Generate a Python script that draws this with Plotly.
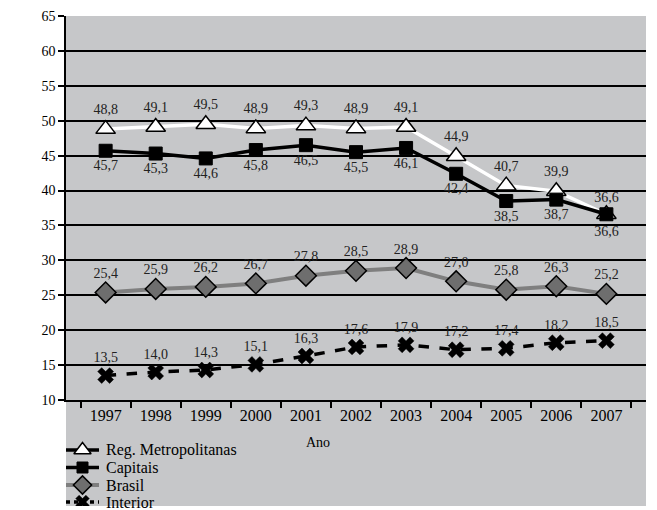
import plotly.graph_objects as go

anos = ["1997", "1998", "1999", "2000", "2001", "2002", "2003", "2004", "2005", "2006", "2007"]
reg_metropolitanas = [48.8, 49.1, 49.5, 48.9, 49.3, 48.9, 49.1, 44.9, 40.7, 39.9, 36.6]
capitais = [45.7, 45.3, 44.6, 45.8, 46.5, 45.5, 46.1, 42.4, 38.5, 38.7, 36.6]
brasil = [25.4, 25.9, 26.2, 26.7, 27.8, 28.5, 28.9, 27.0, 25.8, 26.3, 25.2]
interior = [13.5, 14.0, 14.3, 15.1, 16.3, 17.6, 17.9, 17.2, 17.4, 18.2, 18.5]

FONT = "Times New Roman, Liberation Serif, serif"
W, H = 657, 510
ML, MR, MT, MB = 66, 11, 16, 4
PLOT_BOTTOM_PX = 400          # pixel row of the x axis line
PAPER_H = H - MT - MB
MAIN_DOMAIN_Y0 = (H - MB - PLOT_BOTTOM_PX) / PAPER_H


def rotulo(valores):
    return [f"{v:.1f}".replace(".", ",") for v in valores]


series = [
    dict(name="Reg. Metropolitanas", y=reg_metropolitanas,
         line=dict(color="white", width=3.5),
         marker=dict(symbol="triangle-up", size=17, color="white",
                     line=dict(color="black", width=1.5)),
         pos=["top center"] * 10 + ["bottom center"]),
    dict(name="Capitais", y=capitais,
         line=dict(color="black", width=3.5),
         marker=dict(symbol="square", size=13, color="black",
                     line=dict(color="black", width=1)),
         pos=["bottom center"] * 10 + ["top center"]),
    dict(name="Brasil", y=brasil,
         line=dict(color="#7f7f7f", width=4),
         marker=dict(symbol="diamond", size=16, color="#6e6e6e",
                     line=dict(color="black", width=1.5)),
         pos="top center"),
    dict(name="Interior", y=interior,
         line=dict(color="black", width=3.5, dash="dash"),
         marker=dict(symbol="x", size=14, color="black",
                     line=dict(color="black", width=0.5)),
         pos="top center"),
]

fig = go.Figure()

for s in series:
    fig.add_trace(go.Scatter(
        x=anos, y=s["y"], name=s["name"],
        mode="lines+markers+text",
        line=s["line"], marker=s["marker"],
        text=rotulo(s["y"]), textposition=s["pos"],
        textfont=dict(family=FONT, size=14, color="#222"),
        showlegend=False, cliponaxis=False,
    ))

# legend drawn in its own strip below the chart (pixel-like coordinates)
legend_rows = [50, 67.5, 85, 102]      # offsets below the x axis line
legend_sym_x = [0, 16.5, 33]           # line start, marker, line end
legend_text_x = 38
for s, row in zip(series, legend_rows):
    leg_line = dict(s["line"])
    if leg_line.get("dash"):
        leg_line["dash"] = "4px,4px"
    if s["name"] == "Reg. Metropolitanas":
        leg_line = dict(color="black", width=3.5)
    mk = dict(s["marker"])
    mk["size"] = s["marker"]["size"] - 2
    fig.add_trace(go.Scatter(
        x=[legend_sym_x[0], legend_sym_x[2]], y=[row, row],
        mode="lines", line=leg_line, xaxis="x2", yaxis="y2",
        showlegend=False, hoverinfo="skip",
    ))
    fig.add_trace(go.Scatter(
        x=[legend_sym_x[1]], y=[row], mode="markers", marker=mk,
        xaxis="x2", yaxis="y2", showlegend=False, hoverinfo="skip",
    ))
    fig.add_annotation(
        text=s["name"], x=legend_text_x, y=row, xref="x2", yref="y2",
        xanchor="left", yanchor="middle", showarrow=False,
        font=dict(family=FONT, size=16, color="black"),
    )

# axis titles
fig.add_annotation(
    text="<b>Taxa de Homicídio (em 100 000)</b>",
    xref="x2", yref="paper", x=-48, y=(MAIN_DOMAIN_Y0 + 1) / 2,
    xanchor="center", yanchor="middle", textangle=-90, showarrow=False,
    font=dict(family=FONT, size=20, color="black"),
)
fig.add_annotation(
    text="Ano", xref="x2", yref="y2", x=252, y=42,
    xanchor="center", yanchor="middle", showarrow=False,
    font=dict(family=FONT, size=14, color="black"),
)

fig.update_layout(
    width=W, height=H,
    margin=dict(l=ML, r=MR, t=MT, b=MB, autoexpand=False),
    paper_bgcolor="white",
    plot_bgcolor="#c6c7c9",
    font=dict(family=FONT, size=14, color="black"),
    showlegend=False,
    xaxis=dict(
        type="category", domain=[0, 1],
        tickson="boundaries", ticks="outside", ticklen=6, tickwidth=1.5,
        tickcolor="black",
        showline=True, linecolor="black", linewidth=1.5,
        showgrid=False,
        tickfont=dict(family=FONT, size=16),
    ),
    yaxis=dict(
        domain=[MAIN_DOMAIN_Y0, 1],
        range=[10, 65], dtick=5, tick0=10,
        ticks="outside", ticklen=6, tickwidth=1.5, tickcolor="black",
        showline=True, linecolor="black", linewidth=1.5,
        showgrid=True, gridcolor="black", gridwidth=1.5,
        zeroline=False,
        tickfont=dict(family=FONT, size=14),
    ),
    xaxis2=dict(
        domain=[0, 1], anchor="y2", range=[0, W - ML - MR],
        visible=False, fixedrange=True,
    ),
    yaxis2=dict(
        domain=[0, MAIN_DOMAIN_Y0], anchor="x2",
        range=[H - MB - PLOT_BOTTOM_PX, 0],
        visible=False, fixedrange=True,
    ),
)

fig.write_html("out.html")
